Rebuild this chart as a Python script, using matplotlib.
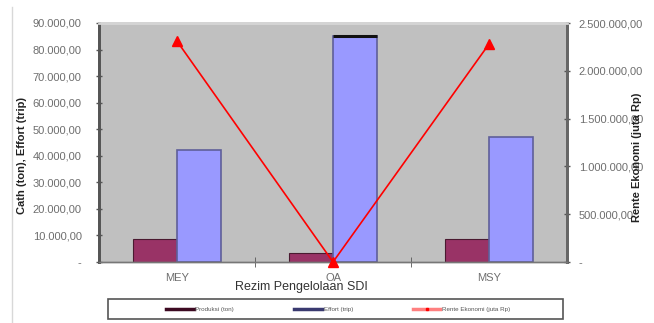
import matplotlib.pyplot as plt
from matplotlib.lines import Line2D
from matplotlib.patches import Rectangle
from matplotlib.ticker import FuncFormatter

plt.rcParams['font.family'] = ['Liberation Sans', 'DejaVu Sans']

# data per rezim pengelolaan
rezim = ['MEY', 'OA', 'MSY']
produksi = [8700, 3400, 8700]          # ton
effort = [42000, 85000, 47000]         # trip
rente = [2310000, 0, 2280000]          # juta Rp

legend_labels = ['Produksi (ton)', 'Effort (trip)', 'Rente Ekonomi (juta Rp)']


def fmt_id(v, pos):
    if v == 0:
        return '-'
    s = '{:,.2f}'.format(v)
    return s.replace(',', 'X').replace('.', ',').replace('X', '.')


fig = plt.figure(figsize=(6.54, 3.23), dpi=100)
ax = fig.add_axes([99 / 654, 1 - 262 / 323, 468 / 654, 239 / 323])
ax.set_facecolor('#c0c0c0')

x = list(range(len(rezim)))
w = 0.28
ax.bar([i - w for i in x], produksi, width=w, align='edge',
       color='#993366', edgecolor='#4a1a30', linewidth=0.8, zorder=2)
bars_eff = ax.bar(x, effort, width=w, align='edge',
                  color='#9999ff', edgecolor='#5f5f99', linewidth=1.2, zorder=2)
# dark cap on the tallest effort bar
top = max(range(len(effort)), key=lambda i: effort[i])
r = bars_eff[top]
ax.hlines(effort[top], r.get_x(), r.get_x() + r.get_width(), color='#111111',
          linewidth=2.2, zorder=3)

ax.set_xlim(-0.5, 2.5)
ax.set_ylim(0, 90000)
ax.set_yticks(range(0, 90001, 10000))
ax.yaxis.set_major_formatter(FuncFormatter(fmt_id))
ax.set_xticks(x)
ax.set_xticklabels(rezim)
ax.set_xticks([0.5, 1.5], minor=True)
ax.tick_params(axis='x', which='major', length=0, pad=8, labelsize=8,
               labelcolor='#6e6e6e')
ax.tick_params(axis='x', which='minor', direction='inout', length=7,
               color='#555555')
ax.tick_params(axis='y', direction='inout', length=5, width=1, color='#555555',
               labelsize=8, labelcolor='#6e6e6e', pad=10)

ax2 = ax.twinx()
ax2.plot(x, rente, color='#ff0000', linewidth=1.2, marker='^',
         markersize=7, clip_on=False, zorder=5)
ax2.set_ylim(0, 2500000)
ax2.set_yticks(range(0, 2500001, 500000))
ax2.yaxis.set_major_formatter(FuncFormatter(fmt_id))
ax2.tick_params(axis='y', direction='inout', length=5, width=1, color='#555555',
                labelsize=8, labelcolor='#6e6e6e', pad=6)

for a in (ax, ax2):
    a.spines['left'].set_color('#555555')
    a.spines['left'].set_linewidth(2)
    a.spines['right'].set_color('#666666')
    a.spines['right'].set_linewidth(2)
    a.spines['top'].set_color('#d4d4d4')
    a.spines['top'].set_linewidth(2)
    a.spines['bottom'].set_color('#777777')
    a.spines['bottom'].set_linewidth(1)

fig.text(22 / 654, 1 - 155 / 323, 'Cath (ton), Effort (trip)', rotation=90,
         ha='center', va='center', fontsize=8, fontweight='bold', color='#222222')
fig.text(637 / 654, 1 - 157 / 323, 'Rente Ekonomi (juta Rp)', rotation=90,
         ha='center', va='center', fontsize=8, fontweight='bold', color='#222222')
fig.text(301 / 654, 1 - 287 / 323, 'Rezim Pengelolaan SDI', ha='center',
         va='center', fontsize=9, color='#333333')

# frame line on the left edge
fig.add_artist(Line2D([12 / 654, 12 / 654], [0, 1 - 7 / 323],
                      color='#d8d8d8', linewidth=1))

# legend frame
fig.add_artist(Rectangle((108 / 654, 1 - 319 / 323), 455 / 654, 20 / 323,
                         transform=fig.transFigure, facecolor='white',
                         edgecolor='#555555', linewidth=1.2))

handles = [
    Line2D([], [], color='#3d0a22', linewidth=2.5),
    Line2D([], [], color='#3a3a70', linewidth=2.5),
    Line2D([], [], color='#ff8080', linewidth=2.5, marker='s',
           markersize=2, markerfacecolor='#ff0000', markeredgecolor='#ff0000'),
]
leg = fig.legend(handles, legend_labels, ncol=3, loc='center left',
                 bbox_to_anchor=(166 / 654, 1 - 309 / 323),
                 fontsize=4.5, frameon=False, handlelength=4.4,
                 borderaxespad=0, borderpad=0, handletextpad=0.3,
                 columnspacing=9.6, labelcolor='#555555')

fig.savefig('out.png', dpi=100)
